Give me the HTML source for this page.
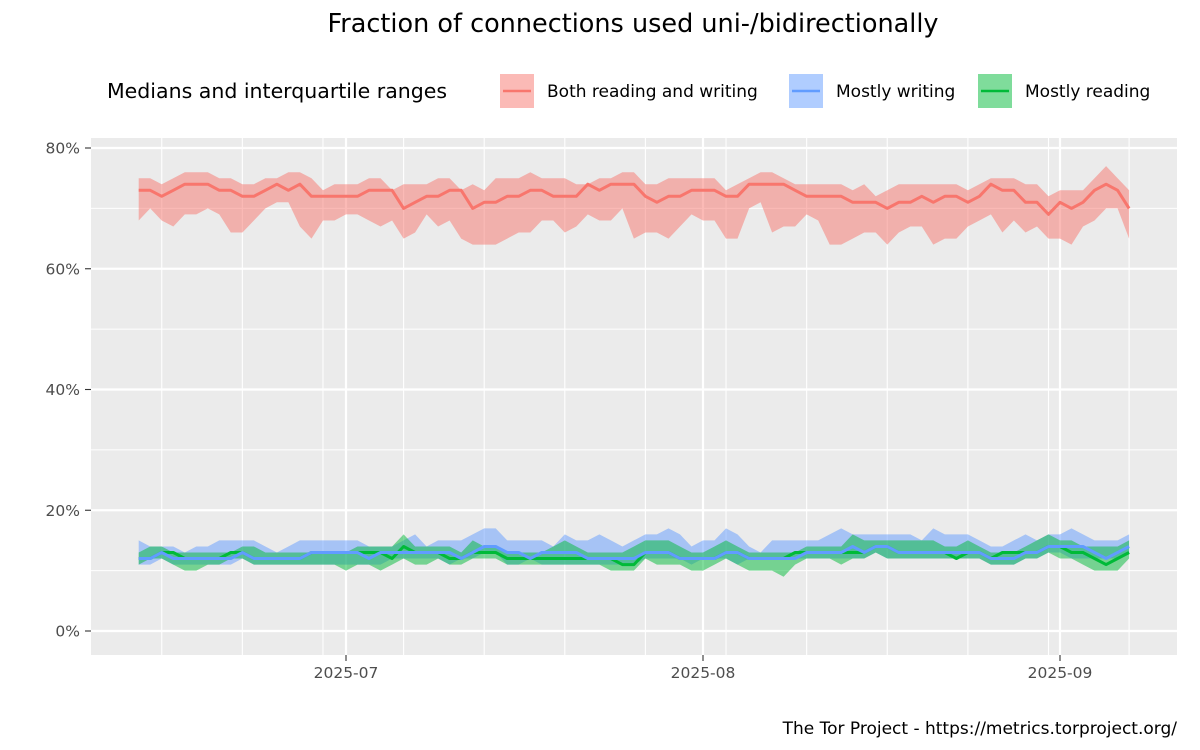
<!DOCTYPE html>
<html><head><meta charset="utf-8"><style>
body{margin:0;background:#fff;}
svg{display:block;font-family:"DejaVu Sans","Liberation Sans",sans-serif;}
</style></head><body>
<svg id="chart" width="1200" height="750" viewBox="0 0 1200 750">
<rect x="0" y="0" width="1200" height="750" fill="#fff"/>
<text x="633" y="32" font-size="25.5" text-anchor="middle" fill="#000">Fraction of connections used uni-/bidirectionally</text>
<g>
<text x="107" y="98" font-size="20.5" fill="#000">Medians and interquartile ranges</text>
<g>
<rect x="500" y="74" width="34" height="34" fill="#F8766D" fill-opacity="0.5"/>
<line x1="503" y1="91" x2="531" y2="91" stroke="#F8766D" stroke-width="2.5"/>
<text x="547" y="97" font-size="17" fill="#000">Both reading and writing</text></g>
<g>
<rect x="789" y="74" width="34" height="34" fill="#619CFF" fill-opacity="0.5"/>
<line x1="792" y1="91" x2="820" y2="91" stroke="#619CFF" stroke-width="2.5"/>
<text x="836" y="97" font-size="17" fill="#000">Mostly writing</text></g>
<g>
<rect x="978" y="74" width="34" height="34" fill="#00BA38" fill-opacity="0.5"/>
<line x1="981" y1="91" x2="1009" y2="91" stroke="#00BA38" stroke-width="2.5"/>
<text x="1025" y="97" font-size="17" fill="#000">Mostly reading</text></g>
</g>
<rect x="91" y="138" width="1086" height="517" fill="#EBEBEB"/>
<g id="grid"></g>
<g id="series"></g>
<g id="axes"></g>
<text x="1177" y="734" font-size="17" text-anchor="end" fill="#000">The Tor Project - https://metrics.torproject.org/</text>
</svg>
<script>
const startDate = "2025-06-13";
const bothMedian = [73,73,72,73,74,74,74,73,73,72,72,73,74,73,74,72,72,72,72,72,73,73, 73,70,71,72,72,73,73,70,71,71,72,72,73,73,72,72,72,74,73,74,74,74, 72,71,72,72,73,73,73,72,72,74,74,74,74,73,72,72,72,72,71,71,71, 70,71,71,72,71,72,72,71,72,74,73,73,71,71,69,71,70,71,73,74,73,70];
const bothUpper = [75,75,74,75,76,76,76,75,75,74,74,75,75,76,76,75,73,74,74,74,75,75, 73,74,74,74,75,75,73,74,73,75,75,75,76,75,75,75,74,74,75,75,76,76, 74,74,75,75,75,75,75,73,74,75,76,76,75,74,74,74,74,74,73,74,72, 73,74,74,74,74,74,74,73,74,75,75,75,74,74,72,73,73,73,75,77,75,73];
const bothLower = [68,70,68,67,69,69,70,69,66,66,68,70,71,71,67,65,68,68,69,69,68,67, 68,65,66,69,67,68,65,64,64,64,65,66,66,68,68,66,67,69,68,68,70,65, 66,66,65,67,69,68,68,65,65,70,71,66,67,67,69,68,64,64,65,66,66, 64,66,67,67,64,65,65,67,68,69,66,68,66,67,65,65,64,67,68,70,70,65];
const writingMedian = [12,12,13,12,12,12,12,12,12,13,12,12,12,12,12,13,13,13,13,13,12,13, 13,13,13,13,13,13,12,13,14,14,13,13,12,13,13,13,13,12,12,12,12,12, 13,13,13,12,12,12,12,13,13,12,12,12,12,12,13,13,13,13,14,13,14, 14,13,13,13,13,13,13,13,13,12,12,12,13,13,14,14,14,14,13,12,13,14];
const writingUpper = [15,14,14,14,13,14,14,15,15,15,15,14,13,14,15,15,15,15,15,15,14,14, 14,15,16,14,15,15,15,16,17,17,15,15,15,15,14,16,15,15,16,15,14,15, 16,16,17,16,14,15,15,17,16,14,13,15,15,15,15,15,16,17,16,16,16, 16,16,16,15,17,16,16,16,15,14,14,15,16,15,16,16,17,16,15,15,15,16];
const writingLower = [11,11,12,11,11,11,11,11,11,12,11,11,11,11,11,11,11,11,11,11,11,11, 12,12,12,12,12,11,12,12,13,13,11,11,12,11,11,11,11,11,11,11,11,11, 12,12,12,12,11,12,12,12,11,12,12,12,12,12,12,12,12,12,12,12,13, 12,12,12,12,12,12,12,12,12,11,11,11,12,12,13,13,12,12,12,12,12,13];
const readingMedian = [12,12,13,13,12,12,12,12,13,13,12,12,12,12,12,13,13,13,13,13,13,13, 12,14,13,13,13,12,12,13,13,13,12,12,12,12,12,12,12,12,12,12,11,11, 13,13,13,12,12,12,12,13,13,12,12,12,12,13,13,13,13,13,13,13,14, 14,13,13,13,13,13,12,13,13,12,13,13,13,13,14,14,13,13,12,11,12,13];
const readingUpper = [13,14,14,13,13,13,13,13,13,14,14,13,13,13,13,13,13,13,13,14,14,14, 14,16,14,14,14,14,13,15,14,14,13,13,13,13,14,15,14,13,13,13,13,14, 15,15,15,14,13,13,14,15,14,13,13,13,13,13,14,14,14,14,16,15,15, 15,15,15,15,15,14,14,15,14,13,13,13,14,15,16,15,15,14,14,14,14,15];
const readingLower = [11,12,12,11,10,10,11,11,12,12,11,11,11,11,11,11,11,11,10,11,11,10, 11,12,11,11,12,11,11,12,12,12,11,11,11,11,11,11,11,11,11,10,10,10, 12,11,11,11,10,10,11,12,11,10,10,10,9,11,12,12,12,11,12,12,13, 12,12,12,12,12,12,12,12,12,11,11,11,12,12,13,12,12,11,10,10,10,12];
const yTicks = [0,20,40,60,80];
const yTickLabels = ["0%","20%","40%","60%","80%"];
const yMinor = [10,30,50,70];
const xTicks = ["2025-07-01","2025-08-01","2025-09-01"];
const xTickLabels = ["2025-07","2025-08","2025-09"];

const NS="http://www.w3.org/2000/svg";
const DAY=86400000;
const refT=Date.parse("2025-07-01"), pxPerDay=357/31;
function xDate(t){return 346+(t-refT)/DAY*pxPerDay;}
function yVal(v){return 631-v*6.0375;}
function mk(tag,attrs,parent){const e=document.createElementNS(NS,tag);for(const k in attrs)e.setAttribute(k,attrs[k]);parent.appendChild(e);return e;}
const grid=document.getElementById('grid'), axes=document.getElementById('axes'), series=document.getElementById('series');
const t0=Date.parse(startDate);
for(let t=Date.parse("2025-06-08");t<=Date.parse("2025-09-14");t+=7*DAY){
  const x=xDate(t); if(x<91||x>1177) continue;
  const l=mk('line',{x1:x,x2:x,y1:138,y2:655,stroke:'#fff','stroke-width':1.1},grid);
  
  
}
yMinor.forEach(v=>{
  const l=mk('line',{x1:91,x2:1177,y1:yVal(v),y2:yVal(v),stroke:'#fff','stroke-width':1.1},grid);
  
  
});
yTicks.forEach((v,i)=>{
  const y=yVal(v);
  const l=mk('line',{x1:91,x2:1177,y1:y,y2:y,stroke:'#fff','stroke-width':2.2},grid);
  
  
  const tk=mk('line',{x1:85,x2:91,y1:y,y2:y,stroke:'#333','stroke-width':1.1},axes);
  
  
  const tx=mk('text',{x:80,y:y+5.5,'font-size':15.5,'text-anchor':'end',fill:'#4D4D4D'},axes);
  tx.textContent=yTickLabels[i];
  
  
});
xTicks.forEach((d,i)=>{
  const x=xDate(Date.parse(d));
  const l=mk('line',{x1:x,x2:x,y1:138,y2:655,stroke:'#fff','stroke-width':2.2},grid);
  
  
  const tk=mk('line',{x1:x,x2:x,y1:655,y2:661,stroke:'#333','stroke-width':1.1},axes);
  
  
  const tx=mk('text',{x:x,y:678,'font-size':15.5,'text-anchor':'middle',fill:'#4D4D4D'},axes);
  tx.textContent=xTickLabels[i];
  
  
});
function drawSeries(name,color,lo,hi,med){
  const n=Math.min(lo.length,hi.length,med.length);
  let up=[],dn=[],ln=[];
  for(let i=0;i<n;i++){const x=xDate(t0+i*DAY);up.push(x.toFixed(1)+','+yVal(hi[i]).toFixed(1));dn.push(x.toFixed(1)+','+yVal(lo[i]).toFixed(1));ln.push(x.toFixed(1)+','+yVal(med[i]).toFixed(1));}
  const band=mk('polygon',{points:up.concat(dn.reverse()).join(' '),fill:color,'fill-opacity':0.5},series);
  
  
  return ln;
}
const lines=[];
lines.push(['both',    '#F8766D', drawSeries('both','#F8766D',bothLower,bothUpper,bothMedian)]);
lines.push(['writing', '#619CFF', drawSeries('writing','#619CFF',writingLower,writingUpper,writingMedian)]);
lines.push(['reading', '#00BA38', drawSeries('reading','#00BA38',readingLower,readingUpper,readingMedian)]);
[lines[0],lines[2],lines[1]].forEach(([name,color,pts])=>{
  const p=mk('polyline',{points:pts.join(' '),fill:'none',stroke:color,'stroke-width':3,'stroke-linejoin':'round'},series);
  
  
});
</script>
</body></html>
